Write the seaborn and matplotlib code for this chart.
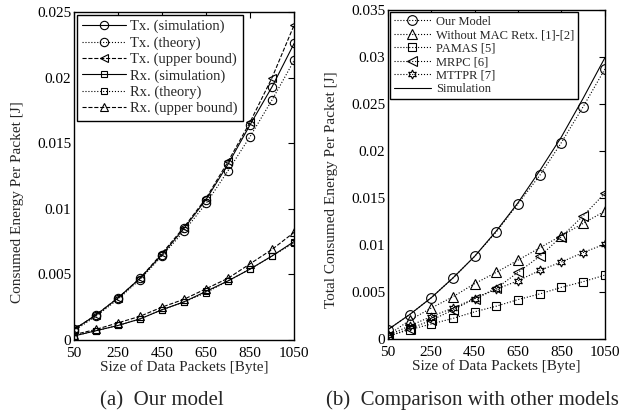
import numpy as np
import pandas as pd
import seaborn as sns
import matplotlib.pyplot as plt
from matplotlib.ticker import FixedLocator

sns.set_theme(style="white")
plt.rcParams['font.family'] = ['Liberation Serif', 'DejaVu Serif']

packet_size = [50, 150, 250, 350, 450, 550, 650, 750, 850, 950, 1050]

# (a) our model
tx_sim = [0.0008, 0.0019, 0.0032, 0.0047, 0.0065, 0.0085, 0.0107, 0.0134, 0.0164, 0.0193, 0.0226]
tx_theory = [0.0007, 0.0018, 0.0031, 0.0046, 0.0064, 0.0083, 0.0104, 0.0129, 0.0155, 0.0183, 0.0213]
tx_upper = [0.0008, 0.0019, 0.0032, 0.0047, 0.0066, 0.0086, 0.0108, 0.0136, 0.0166, 0.0200, 0.0240]
rx_sim = [0.0003, 0.0007, 0.0011, 0.0016, 0.0023, 0.0029, 0.0037, 0.0045, 0.0054, 0.0064, 0.0075]
rx_theory = [0.0003, 0.0007, 0.0011, 0.0016, 0.0023, 0.0029, 0.0036, 0.0045, 0.0054, 0.0064, 0.0074]
rx_upper = [0.0004, 0.0008, 0.0013, 0.0018, 0.0025, 0.0031, 0.0039, 0.0047, 0.0058, 0.0069, 0.0082]

# (b) comparison
our_model = [0.0010, 0.0026, 0.0044, 0.0065, 0.0088, 0.0114, 0.0144, 0.0174, 0.0209, 0.0247, 0.0287]
without_mac = [0.0004, 0.0020, 0.0033, 0.0045, 0.0059, 0.0071, 0.0084, 0.0097, 0.0110, 0.0123, 0.0136]
pamas = [0.0003, 0.0010, 0.0016, 0.0022, 0.0029, 0.0035, 0.0042, 0.0048, 0.0055, 0.0061, 0.0068]
mrpc = [0.0003, 0.0011, 0.0020, 0.0031, 0.0043, 0.0054, 0.0071, 0.0088, 0.0109, 0.0131, 0.0155]
mttpr = [0.0004, 0.0014, 0.0024, 0.0033, 0.0043, 0.0053, 0.0062, 0.0073, 0.0082, 0.0092, 0.0101]
simulation = [0.0010, 0.0026, 0.0044, 0.0065, 0.0088, 0.0115, 0.0145, 0.0179, 0.0215, 0.0256, 0.0299]

fig = plt.figure(figsize=(6.38, 4.12), dpi=100)
ax1 = fig.add_axes([0.116, 0.175, 0.345, 0.796])
ax2 = fig.add_axes([0.608, 0.177, 0.340, 0.799])

lw = 0.8
ms = 6

def draw(ax, y, label, ls, marker, msize=ms):
    kw = dict(x=packet_size, y=y, ax=ax, label=label, color='black', linewidth=lw,
              linestyle=ls)
    if marker is not None:
        kw.update(marker=marker, markersize=msize, markerfacecolor='none',
                  markeredgecolor='black', markeredgewidth=0.8)
    sns.lineplot(**kw)

draw(ax1, tx_sim, 'Tx. (simulation)', '-', 'o')
draw(ax1, tx_theory, 'Tx. (theory)', ':', 'o')
draw(ax1, tx_upper, 'Tx. (upper bound)', '--', '<')
draw(ax1, rx_sim, 'Rx. (simulation)', '-', 's', 5)
draw(ax1, rx_theory, 'Rx. (theory)', ':', 's', 5)
draw(ax1, rx_upper, 'Rx. (upper bound)', '--', '^')

draw(ax2, our_model, 'Our Model', ':', 'o', 7)
draw(ax2, without_mac, 'Without MAC Retx. [1]-[2]', ':', '^', 7.5)
draw(ax2, pamas, 'PAMAS [5]', ':', 's', 5.5)
draw(ax2, mrpc, 'MRPC [6]', ':', '<', 7.5)
draw(ax2, mttpr, 'MTTPR [7]', ':', (6, 1, 0), 6.5)
draw(ax2, simulation, 'Simulation', '-', None)

for ax, ymax, ylabel in [(ax1, 0.025, 'Consumed Energy Per Packet [J]'),
                         (ax2, 0.035, 'Total Consumed Energy Per Packet [J]')]:
    ax.set_xlim(50, 1050)
    ax.set_ylim(0, ymax)
    ax.xaxis.set_major_locator(FixedLocator([50, 250, 450, 650, 850, 1050]))
    ax.yaxis.set_major_locator(FixedLocator(np.arange(0, ymax + 1e-9, 0.005)))
    ax.set_yticklabels(['0'] + ['%g' % v for v in np.arange(0.005, ymax + 1e-9, 0.005)])
    ax.tick_params(direction='in', length=4.5, width=0.8, top=True, right=True,
                   labelsize=11, colors='black')
    ax.tick_params(axis='x', pad=5)
    ax.tick_params(axis='y', pad=2)
    ax.set_xlabel('Size of Data Packets [Byte]', fontsize=11, labelpad=0)
    ax.set_ylabel(ylabel, fontsize=11)
    for s in ax.spines.values():
        s.set_color('black')
        s.set_linewidth(1.0)
    ax.grid(False)

ax1.yaxis.set_label_coords(-0.225, 0.42)
ax2.yaxis.set_label_coords(-0.23, 0.453)

leg1 = ax1.legend(loc='upper left', fontsize=10.5, handlelength=3.0, handletextpad=0.3,
                  borderpad=0.35, labelspacing=0.2, fancybox=False, framealpha=1,
                  edgecolor='black', borderaxespad=0.2)
leg1.get_frame().set_linewidth(1.0)
leg2 = ax2.legend(loc='upper left', fontsize=9, handlelength=3.0, handletextpad=0.4,
                  borderpad=0.3, labelspacing=0.12, fancybox=False, framealpha=1,
                  edgecolor='black', borderaxespad=0.15)
leg2.get_frame().set_linewidth(1.0)

fig.text(0.254, 0.028, '(a)  Our model', ha='center', va='center', fontsize=15)
fig.text(0.741, 0.028, '(b)  Comparison with other models', ha='center', va='center', fontsize=15)

fig.savefig('out.png', dpi=100)
